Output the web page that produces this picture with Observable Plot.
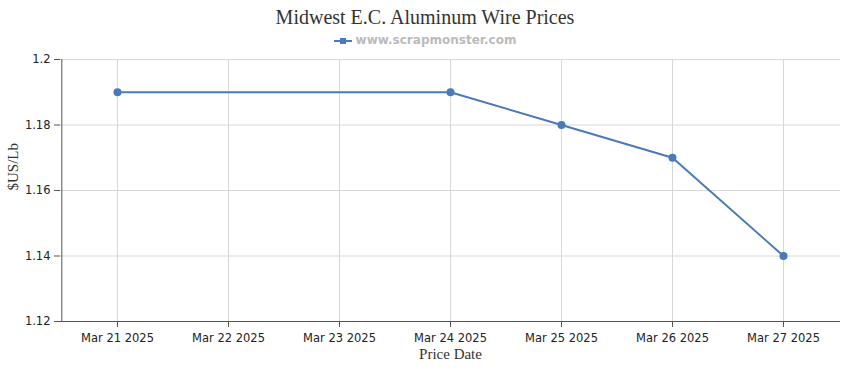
<!DOCTYPE html>
<html>
<head>
<meta charset="utf-8">
<script src="https://cdn.jsdelivr.net/npm/d3@7"></script>
<script src="https://cdn.jsdelivr.net/npm/@observablehq/plot@0.6"></script>
<style>
  html, body { margin: 0; padding: 0; background: #fff; }
  #wrap { width: 850px; }
  .title { height: 31px; text-align: center; font-family: "Liberation Serif", serif; font-size: 20px; color: #333; line-height: 22px; padding-top: 6px; box-sizing: border-box; }
  .legend { height: 19px; text-align: center; font-family: "DejaVu Sans", Verdana, sans-serif; font-weight: bold; font-size: 12px; color: #bbb; line-height: 19px; }
  .legend svg { vertical-align: middle; margin-right: 4px; }
</style>
</head>
<body>
<div id="wrap">
  <div class="title">Midwest E.C. Aluminum Wire Prices</div>
  <div class="legend"><svg width="18" height="8"><line x1="0" y1="4" x2="18" y2="4" stroke="#4a7ab8" stroke-width="2"/><rect x="6" y="1" width="6" height="6" fill="#4a7ab8"/></svg>www.scrapmonster.com</div>
  <div id="chart"></div>
</div>
<script>
const categories = ["Mar 21 2025", "Mar 22 2025", "Mar 23 2025", "Mar 24 2025", "Mar 25 2025", "Mar 26 2025", "Mar 27 2025"];
const priceDates = ["Mar 21 2025", "Mar 24 2025", "Mar 25 2025", "Mar 26 2025", "Mar 27 2025"];
const prices = [1.19, 1.19, 1.18, 1.17, 1.14];
const yTicks = [1.12, 1.14, 1.16, 1.18, 1.2];

const data = priceDates.map((d, i) => ({date: d, price: prices[i]}));
const color = "#4a7ab8";

const chart = Plot.plot({
  width: 850,
  height: 320,
  marginTop: 9,
  marginBottom: 49,
  marginLeft: 60,
  marginRight: 10,
  style: {fontFamily: "'DejaVu Sans', Verdana, sans-serif", fontSize: "11.5px", color: "#222", background: "#fff"},
  x: {type: "point", domain: categories, padding: 0.5, label: null},
  y: {domain: [1.12, 1.2], label: null},
  marks: [
    Plot.gridX(categories, {stroke: "#d8d8d8", strokeOpacity: 1}),
    Plot.gridY(yTicks, {stroke: "#d8d8d8", strokeOpacity: 1}),
    Plot.axisX(categories, {tickSize: 6, tickPadding: 6, stroke: "#555", fill: "#222", label: null}),
    Plot.axisY(yTicks, {tickSize: 6, tickPadding: 4, stroke: "#555", fill: "#222", label: null, tickFormat: d => String(+d.toFixed(2))}),
    Plot.ruleY([1.12], {stroke: "#555"}),
    Plot.ruleX([categories[0]], {stroke: "#555", dx: -55.7}),
    Plot.text(["Price Date"], {frameAnchor: "bottom", lineAnchor: "middle", dy: 33, fontFamily: "'Liberation Serif', serif", fontSize: 15, fill: "#333"}),
    Plot.text(["$US/Lb"], {frameAnchor: "left", dx: -47, rotate: -90, fontFamily: "'Liberation Serif', serif", fontSize: 15, fill: "#333"}),
    Plot.line(data, {x: "date", y: "price", stroke: color, strokeWidth: 2}),
    Plot.dot(data, {x: "date", y: "price", r: 4, fill: color, stroke: "none"})
  ]
});
document.getElementById("chart").appendChild(chart);
</script>
</body>
</html>
